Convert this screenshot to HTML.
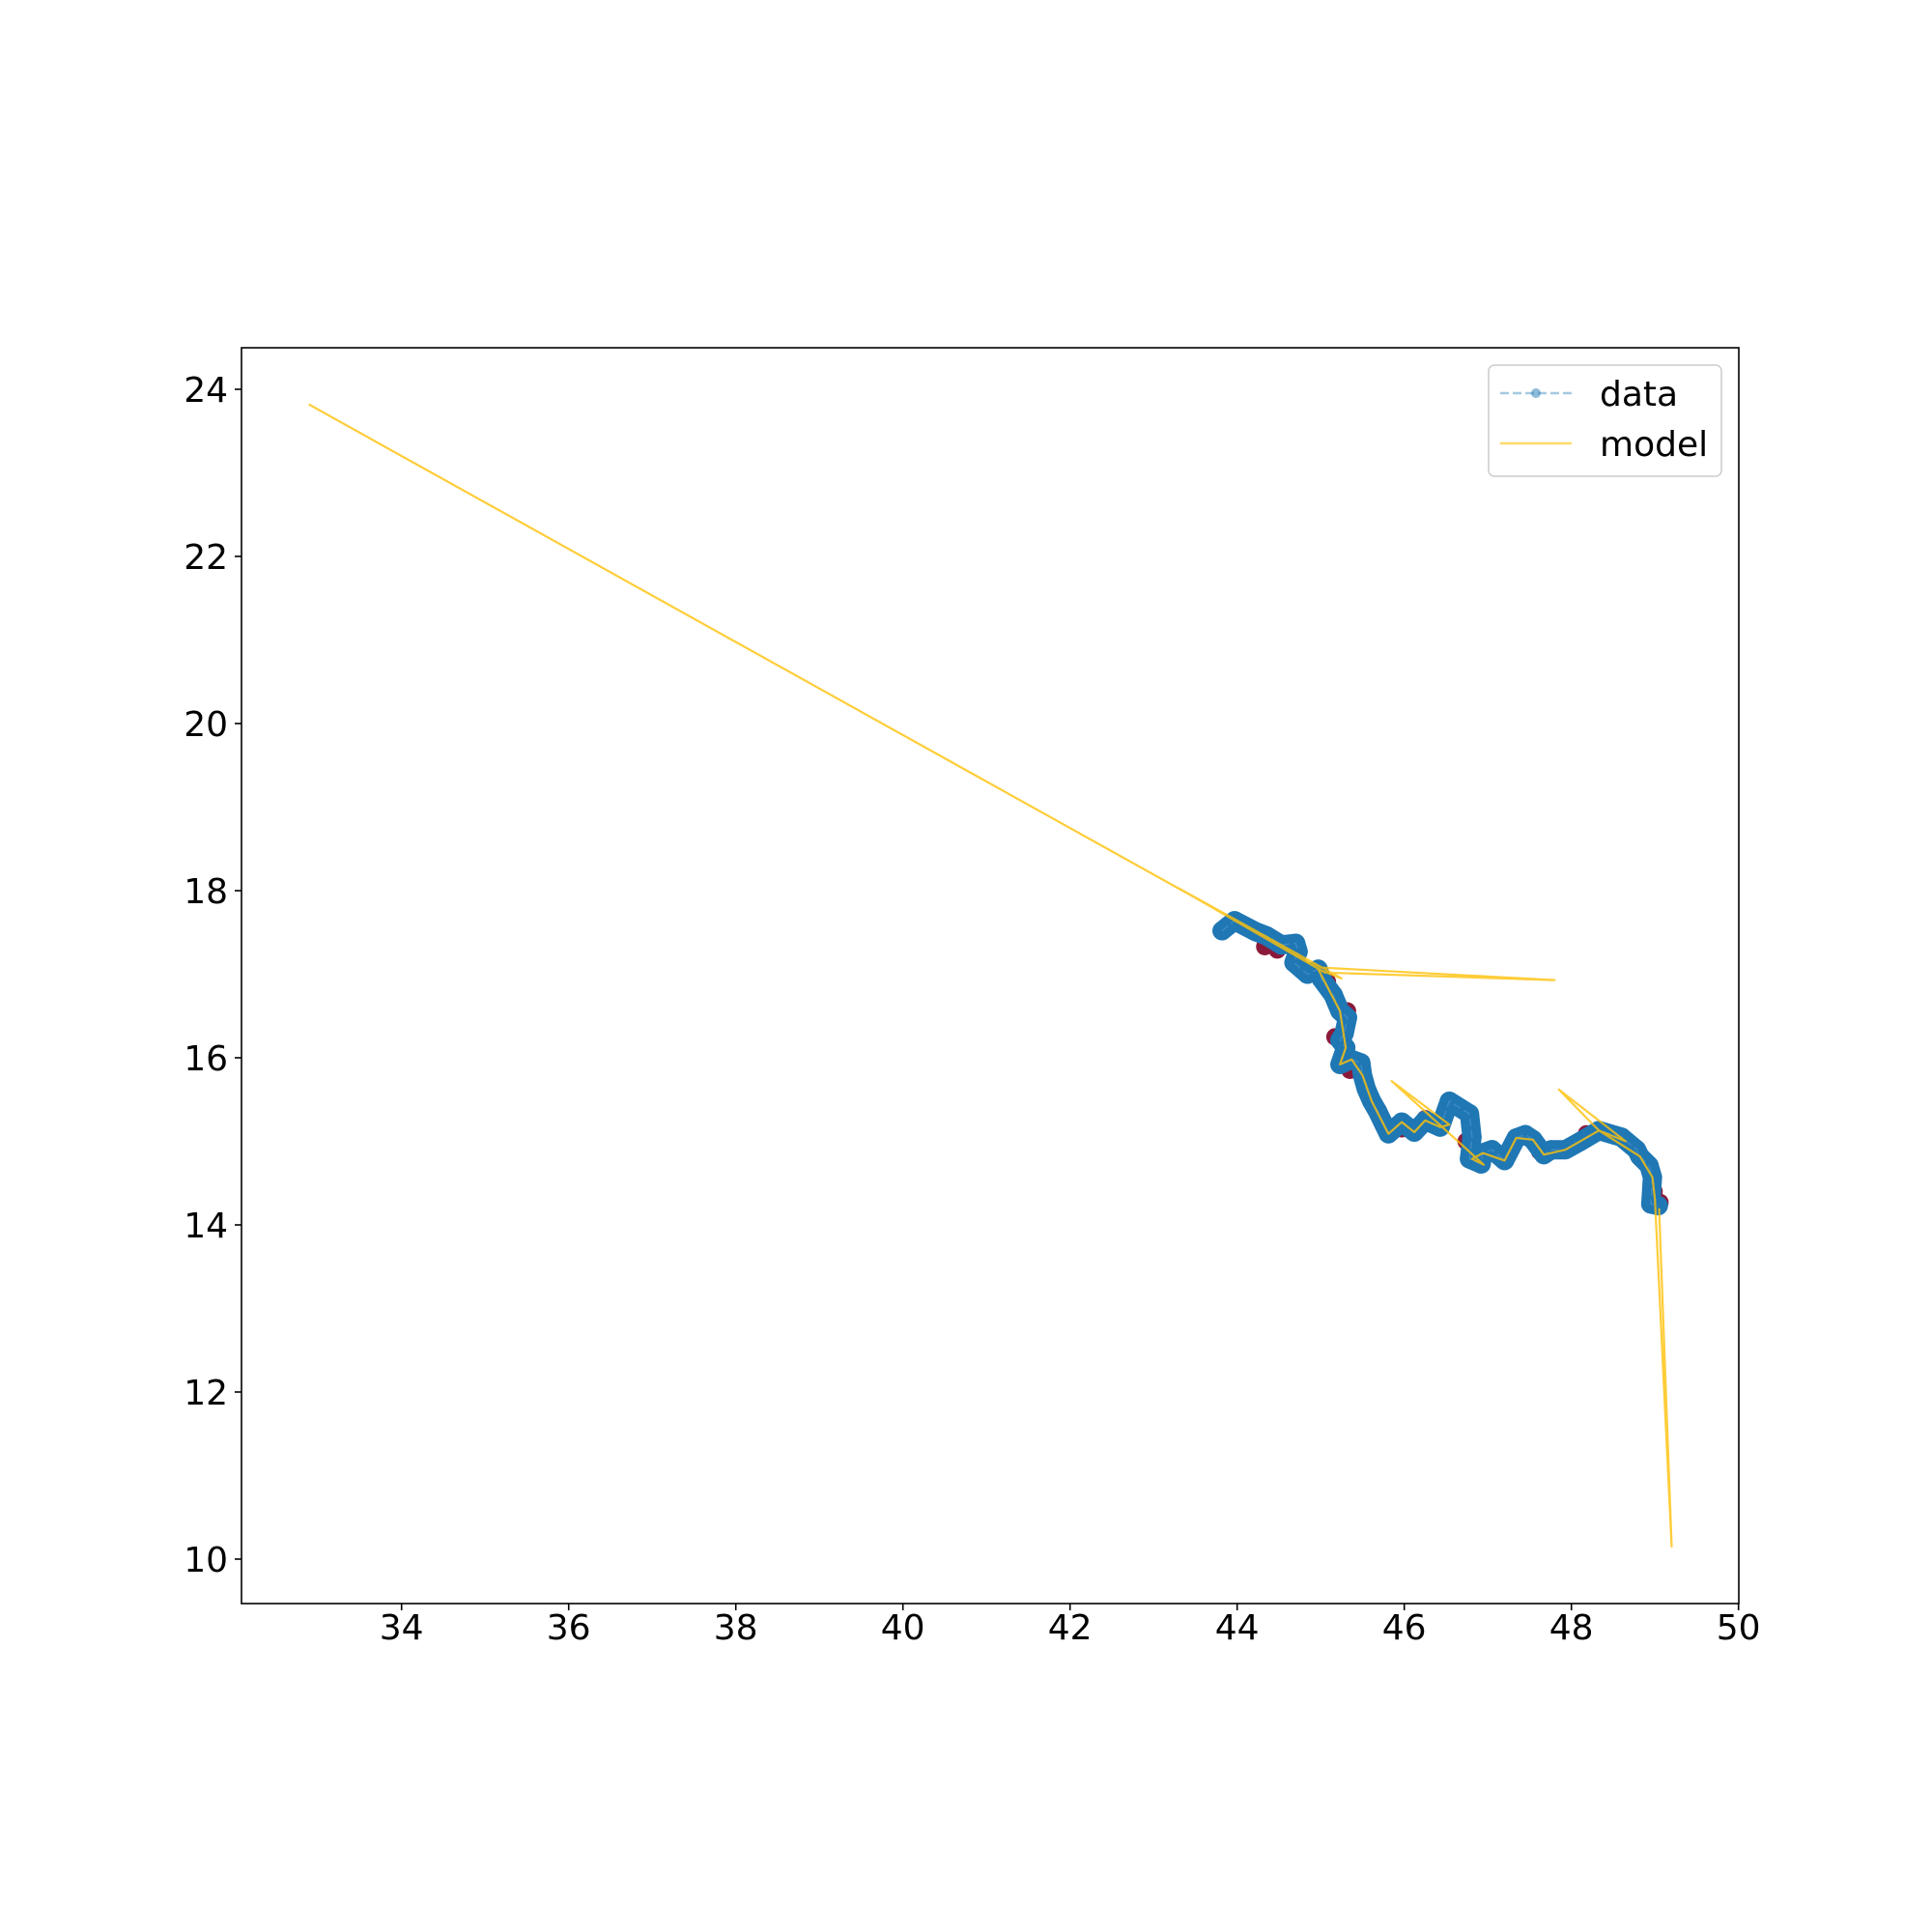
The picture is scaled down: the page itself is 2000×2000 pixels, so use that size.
<!DOCTYPE html>
<html><head><meta charset="utf-8"><style>
html,body{margin:0;padding:0;background:#fff;}
svg{display:block;font-family:"DejaVu Sans","Liberation Sans",sans-serif;}
</style></head><body>
<svg id="chart" width="2000" height="2000" viewBox="0 0 2000 2000">
<rect x="0" y="0" width="2000" height="2000" fill="#fff"/>
<g id="plot"></g>
<rect x="250" y="360" width="1550" height="1300" fill="none" stroke="#000" stroke-width="1.6"/>
<g id="xticks"></g>
<g id="yticks"></g>
<g>
<rect x="1541" y="378" width="241" height="115" rx="6" fill="#fff" fill-opacity="0.8" stroke="#ccc" stroke-width="1.5"/>
<line x1="1553" y1="407" x2="1627" y2="407" stroke="#1f77b4" stroke-opacity="0.4" stroke-width="2.5" stroke-dasharray="9,4"/>
<circle cx="1590" cy="407" r="5" fill="#1f77b4" fill-opacity="0.5"/>
<text x="1656" y="420" font-size="36">data</text>
<line x1="1553" y1="459" x2="1627" y2="459" stroke="#ffc107" stroke-opacity="0.6" stroke-width="2.5"/>
<text x="1656" y="472" font-size="36">model</text>
</g>
</svg>
<script>
const dataX=[43.82,43.97,44.22,44.35,44.53,44.70,44.73,44.68,44.84,44.97,45.01,45.15,45.23,45.32,45.28,45.23,45.30,45.23,45.37,45.48,45.50,45.545,45.61,45.68,45.81,45.97,46.12,46.25,46.43,46.54,46.78,46.81,46.78,46.92,46.94,47.05,47.20,47.34,47.45,47.54,47.67,47.76,47.93,48.11,48.33,48.60,48.78,48.82,48.93,48.97,48.95,49.04];
const dataY=[17.52,17.64,17.51,17.46,17.35,17.37,17.27,17.14,17.00,17.06,16.94,16.75,16.56,16.48,16.29,16.21,16.12,15.92,15.98,15.94,15.79,15.63,15.48,15.36,15.09,15.23,15.11,15.25,15.17,15.48,15.33,15.05,14.79,14.73,14.86,14.90,14.77,15.04,15.08,15.02,14.84,14.90,14.90,15.00,15.13,15.05,14.90,14.82,14.71,14.57,14.25,14.23];
const redX=[44.33,44.48,45.08,45.32,45.17,45.35,45.97,46.25,46.74,47.62,48.18,48.99,49.06];
const redY=[17.33,17.29,16.91,16.56,16.25,15.85,15.15,15.27,15.00,14.88,15.09,14.40,14.27];
const modelX=[32.89,45.0,47.8,45.05,43.3,45.25,44.97,45.23,45.30,45.23,45.37,45.50,45.61,45.81,45.97,46.12,46.25,46.43,46.54,45.85,46.95,46.81,46.94,47.20,47.34,47.54,47.67,47.93,48.33,48.65,47.85,48.33,48.82,48.97,49.0,49.2,49.05];
const modelY=[23.82,17.08,16.93,17.02,18.03,16.95,17.06,16.56,16.12,15.92,15.98,15.79,15.48,15.09,15.23,15.11,15.25,15.17,15.20,15.72,14.72,14.79,14.86,14.77,15.04,15.02,14.84,14.90,15.13,15.00,15.62,15.13,14.82,14.57,14.30,10.15,14.20];
const xTicks=[34,36,38,40,42,44,46,48,50];
const yTicks=[10,12,14,16,18,20,22,24];
const NS='http://www.w3.org/2000/svg';
function sx(v){return 415.7+(v-34)*86.5;}
function sy(v){return 1614-(v-10)*86.5;}
function mk(tag,attrs,parent){const e=document.createElementNS(NS,tag);for(const k in attrs)e.setAttribute(k,attrs[k]);parent.appendChild(e);return e;}
const plot=document.getElementById('plot');
for(let i=0;i<redX.length;i++){
 const c=mk('circle',{cx:sx(redX[i]),cy:sy(redY[i]),r:9,fill:'#8b1a3a'},plot);
 
 
}
let d='';
for(let i=0;i<dataX.length;i++){d+=(i?'L':'M')+sx(dataX[i]).toFixed(1)+' '+sy(dataY[i]).toFixed(1);}
const band=mk('path',{d:d,fill:'none',stroke:'#1f77b4','stroke-width':20,'stroke-linejoin':'round','stroke-linecap':'round'},plot);


for(let i=0;i<dataX.length;i++){
 const c=mk('circle',{cx:sx(dataX[i]),cy:sy(dataY[i]),r:10,fill:'#1f77b4','fill-opacity':0.7},plot);
 
 
}
const dl=mk('path',{d:d,fill:'none',stroke:'#5a9bd0','stroke-opacity':0.5,'stroke-width':1.5,'stroke-dasharray':'8,4'},plot);


let m='';
for(let i=0;i<modelX.length;i++){m+=(i?'L':'M')+sx(modelX[i]).toFixed(1)+' '+sy(modelY[i]).toFixed(1);}
const ml=mk('path',{d:m,fill:'none',stroke:'#ffc107','stroke-opacity':0.8,'stroke-width':2.2,'stroke-linejoin':'round'},plot);


const xg=document.getElementById('xticks');
xTicks.forEach(v=>{
 const t=mk('line',{x1:sx(v),x2:sx(v),y1:1660,y2:1667,stroke:'#000','stroke-width':1.6},xg);
 
 
 const l=mk('text',{x:sx(v),y:1697,'font-size':36,'text-anchor':'middle'},xg);
 l.textContent=v;
 
 
});
const yg=document.getElementById('yticks');
yTicks.forEach(v=>{
 const t=mk('line',{x1:243,x2:250,y1:sy(v),y2:sy(v),stroke:'#000','stroke-width':1.6},yg);
 
 
 const l=mk('text',{x:236,y:sy(v)+13,'font-size':36,'text-anchor':'end'},yg);
 l.textContent=v;
 
 
});
</script>
</body></html>
